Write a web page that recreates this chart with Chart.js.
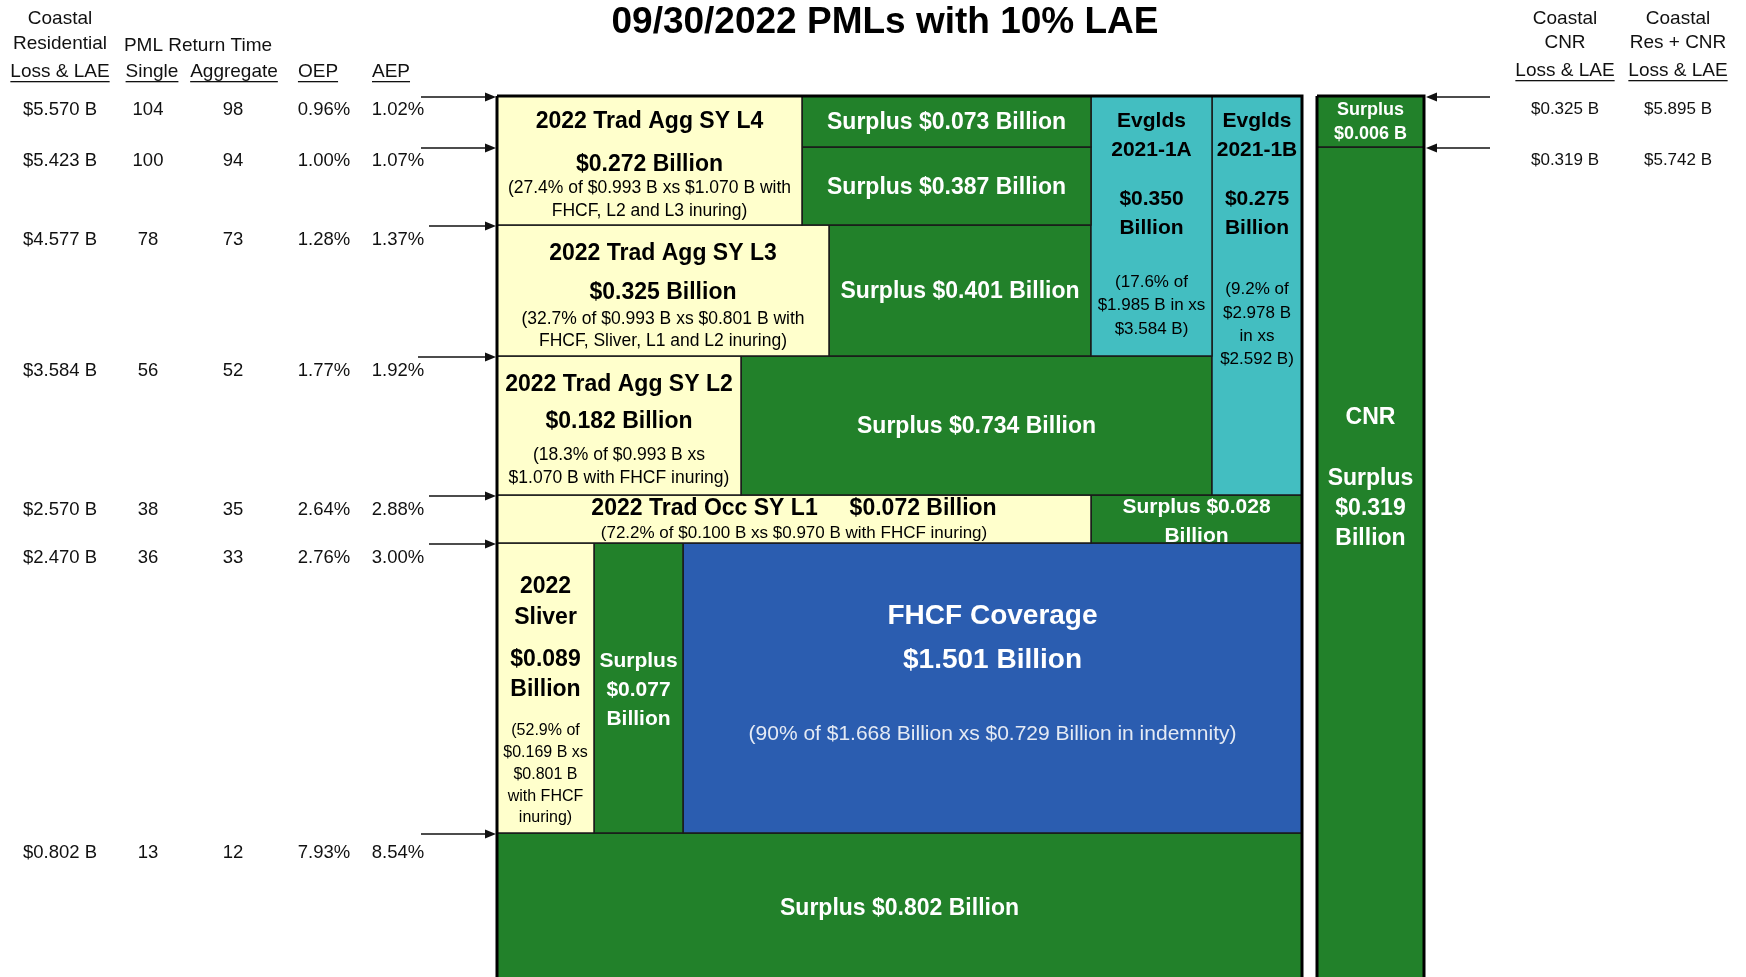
<!DOCTYPE html>
<html>
<head>
<meta charset="utf-8">
<title>09/30/2022 PMLs with 10% LAE</title>
<script src="https://cdn.jsdelivr.net/npm/chart.js@4.4.1/dist/chart.umd.min.js"></script>
<style>
  html, body { margin: 0; padding: 0; background: #fff; }
  canvas { display: block; }
</style>
</head>
<body>
<canvas id="tower" width="1746" height="977"></canvas>
<script>
// PML table (one row per attachment level, top of tower first)
const lossLevels   = [5.570, 5.423, 4.577, 3.584, 2.570, 2.470, 0.802];
const pmlSingle    = [104, 100, 78, 56, 38, 36, 13];
const pmlAggregate = [98, 94, 73, 52, 35, 33, 12];
const oepPct       = [0.96, 1.00, 1.28, 1.77, 2.64, 2.76, 7.93];
const aepPct       = [1.02, 1.07, 1.37, 1.92, 2.88, 3.00, 8.54];
// CNR side table
const cnrLoss      = [0.325, 0.319];
const resCnrLoss   = [5.895, 5.742];

// layout (chart units): row of each level in the tower, plus the base
const levelY = [96, 147, 225, 356, 495, 543, 833, 985];
const colX = {
  left: 497, sliver: 594, s077: 683, l2: 741, l4: 802, l3: 829,
  evA: 1091, evB: 1212, right: 1302, cnrL: 1317, cnrR: 1424
};
const rowTextY  = [109.5, 160.5, 239.5, 370.5, 509.5, 557.5, 852.5];
const arrowTail = [421, 421, 429, 418, 429, 429, 421];
const TEXT_SHIFT = 2; // glyph centre vs. canvas 'middle' baseline

const YELLOW = '#FFFFCC', GREEN = '#22812A', CYAN = '#43BEC1', BLUE = '#2B5DB0';
const FAMILY = '"Liberation Sans", Arial, Helvetica, sans-serif';

// tower layers: columns, levels, colour, label lines [text, font, row]
const layers = [
  { x: ['left', 'l4'], lv: [0, 2], fill: YELLOW, ink: '#000', lines: [
    ['2022 Trad Agg SY L4', 'b23', 120], ['$0.272 Billion', 'b23', 163],
    ['(27.4% of $0.993 B xs $1.070 B with', 'r17.5', 186], ['FHCF, L2 and L3 inuring)', 'r17.5', 209]] },
  { x: ['l4', 'evA'], lv: [0, 1], fill: GREEN, ink: '#fff', lines: [['Surplus $0.073 Billion', 'b23', 121]] },
  { x: ['l4', 'evA'], lv: [1, 2], fill: GREEN, ink: '#fff', lines: [['Surplus $0.387 Billion', 'b23', 186]] },
  { x: ['evA', 'evB'], lv: [0, 3], fill: CYAN, ink: '#000', lines: [
    ['Evglds', 'b21', 119], ['2021-1A', 'b21', 148], ['$0.350', 'b21', 197], ['Billion', 'b21', 226],
    ['(17.6% of', 'r17', 280], ['$1.985 B in xs', 'r17', 303], ['$3.584 B)', 'r17', 327]] },
  { x: ['evB', 'right'], lv: [0, 4], fill: CYAN, ink: '#000', lines: [
    ['Evglds', 'b21', 119], ['2021-1B', 'b21', 148], ['$0.275', 'b21', 197], ['Billion', 'b21', 226],
    ['(9.2% of', 'r17', 287], ['$2.978 B', 'r17', 311], ['in xs', 'r17', 334], ['$2.592 B)', 'r17', 357]] },
  { x: ['left', 'l3'], lv: [2, 3], fill: YELLOW, ink: '#000', lines: [
    ['2022 Trad Agg SY L3', 'b23', 252], ['$0.325 Billion', 'b23', 291],
    ['(32.7% of $0.993 B xs $0.801 B with', 'r17.5', 317], ['FHCF, Sliver, L1 and L2 inuring)', 'r17.5', 339]] },
  { x: ['l3', 'evA'], lv: [2, 3], fill: GREEN, ink: '#fff', lines: [['Surplus $0.401 Billion', 'b23', 290]] },
  { x: ['left', 'l2'], lv: [3, 4], fill: YELLOW, ink: '#000', lines: [
    ['2022 Trad Agg SY L2', 'b23', 383], ['$0.182 Billion', 'b23', 420],
    ['(18.3% of $0.993 B xs', 'r17.5', 453], ['$1.070 B with FHCF inuring)', 'r17.5', 476]] },
  { x: ['l2', 'evB'], lv: [3, 4], fill: GREEN, ink: '#fff', lines: [['Surplus $0.734 Billion', 'b23', 425]] },
  { x: ['left', 'evA'], lv: [4, 5], fill: YELLOW, ink: '#000', lines: [
    ['2022 Trad Occ SY L1     $0.072 Billion', 'b23', 507],
    ['(72.2% of $0.100 B xs $0.970 B with FHCF inuring)', 'r17', 531]] },
  { x: ['evA', 'right'], lv: [4, 5], fill: GREEN, ink: '#fff', lines: [['Surplus $0.028', 'b21', 505], ['Billion', 'b21', 534]] },
  { x: ['left', 'sliver'], lv: [5, 6], fill: YELLOW, ink: '#000', lines: [
    ['2022', 'b23', 585], ['Sliver', 'b23', 616], ['$0.089', 'b23', 658], ['Billion', 'b23', 688],
    ['(52.9% of', 'r16', 729], ['$0.169 B xs', 'r16', 751], ['$0.801 B', 'r16', 773],
    ['with FHCF', 'r16', 795], ['inuring)', 'r16', 816]] },
  { x: ['sliver', 's077'], lv: [5, 6], fill: GREEN, ink: '#fff', lines: [
    ['Surplus', 'b21', 659], ['$0.077', 'b21', 688], ['Billion', 'b21', 717]] },
  { x: ['s077', 'right'], lv: [5, 6], fill: BLUE, ink: '#fff', lines: [
    ['FHCF Coverage', 'b28', 614], ['$1.501 Billion', 'b28', 658],
    ['(90% of $1.668 Billion xs $0.729 Billion in indemnity)', 'r21', 732, '#E4EAF4']] },
  { x: ['left', 'right'], lv: [6, 7], fill: GREEN, ink: '#fff', lines: [['Surplus $0.802 Billion', 'b23', 907]] },
  { x: ['cnrL', 'cnrR'], lv: [0, 1], fill: GREEN, ink: '#fff', lines: [['Surplus', 'b18', 108], ['$0.006 B', 'b18', 132]] },
  { x: ['cnrL', 'cnrR'], lv: [1, 7], fill: GREEN, ink: '#fff', lines: [
    ['CNR', 'b23', 416], ['Surplus', 'b23', 477], ['$0.319', 'b23', 507], ['Billion', 'b23', 537]] }
];

function font(key) {
  const weight = key[0] === 'b' ? 'bold ' : '';
  return weight + key.slice(1) + 'px ' + FAMILY;
}

function rectPoints(x0, x1, y0, y1) {
  return [{x: x0, y: y0}, {x: x1, y: y0}, {x: x1, y: y1}, {x: x0, y: y1}, {x: x0, y: y0}];
}

const datasets = layers.map(l => ({
  data: rectPoints(colX[l.x[0]], colX[l.x[1]], levelY[l.lv[0]], levelY[l.lv[1]]),
  showLine: true,
  fill: 'shape',
  backgroundColor: l.fill,
  borderColor: '#1a1a1a',
  borderWidth: 1.5,
  borderJoinStyle: 'miter',
  pointRadius: 0,
  pointHoverRadius: 0,
  tension: 0,
  order: 1
}));

// thick outlines of the two towers
[['left', 'right'], ['cnrL', 'cnrR']].forEach(c => {
  datasets.push({
    data: rectPoints(colX[c[0]], colX[c[1]], levelY[0], levelY[7]),
    showLine: true,
    fill: false,
    borderColor: '#000',
    borderWidth: 3,
    borderJoinStyle: 'miter',
    pointRadius: 0,
    pointHoverRadius: 0,
    order: 0
  });
});

// labels inside each layer
const layerLabels = {
  id: 'layerLabels',
  afterDatasetsDraw(chart) {
    const {ctx, scales: {x, y}} = chart;
    ctx.save();
    ctx.textAlign = 'center';
    ctx.textBaseline = 'middle';
    layers.forEach(l => {
      const cx = (x.getPixelForValue(colX[l.x[0]]) + x.getPixelForValue(colX[l.x[1]])) / 2;
      l.lines.forEach(line => {
        ctx.font = font(line[1]);
        ctx.fillStyle = line[3] || l.ink;
        ctx.fillText(line[0], cx, y.getPixelForValue(line[2] + TEXT_SHIFT));
      });
    });
    ctx.restore();
  }
};

function label(ctx, str, px, py, size, underline) {
  ctx.font = size + 'px ' + FAMILY;
  ctx.fillText(str, px, py);
  if (underline) {
    const w = ctx.measureText(str).width;
    ctx.fillRect(px - w / 2, py + size * 0.5, w, 1.3);
  }
}

function arrow(ctx, x0, y0, x1, y1) {
  const dir = Math.sign(x1 - x0);
  ctx.beginPath();
  ctx.moveTo(x0, y0);
  ctx.lineTo(x1 - dir * 9, y1);
  ctx.stroke();
  ctx.beginPath();
  ctx.moveTo(x1, y1);
  ctx.lineTo(x1 - dir * 11, y1 - 4.5);
  ctx.lineTo(x1 - dir * 11, y1 + 4.5);
  ctx.closePath();
  ctx.fill();
}

// PML table on the left, CNR table on the right, level arrows
const sideTables = {
  id: 'sideTables',
  afterDraw(chart) {
    const {ctx, scales: {x, y}} = chart;
    const X = v => x.getPixelForValue(v);
    const Y = v => y.getPixelForValue(v);
    ctx.save();
    ctx.fillStyle = '#111';
    ctx.strokeStyle = '#111';
    ctx.lineWidth = 1.6;
    ctx.textAlign = 'center';
    ctx.textBaseline = 'middle';

    // left headers
    label(ctx, 'Coastal', X(60), Y(18.5), 19);
    label(ctx, 'Residential', X(60), Y(43.5), 19);
    label(ctx, 'Loss & LAE', X(60), Y(71.5), 19, true);
    label(ctx, 'PML Return Time', X(198), Y(45.5), 19);
    label(ctx, 'Single', X(152), Y(71.5), 19, true);
    label(ctx, 'Aggregate', X(234), Y(71.5), 19, true);
    label(ctx, 'OEP', X(318), Y(71.5), 19, true);
    label(ctx, 'AEP', X(391), Y(71.5), 19, true);

    lossLevels.forEach((v, i) => {
      const ry = Y(rowTextY[i]);
      label(ctx, '$' + v.toFixed(3) + ' B', X(60), ry, 18.5);
      label(ctx, String(pmlSingle[i]), X(148), ry, 18.5);
      label(ctx, String(pmlAggregate[i]), X(233), ry, 18.5);
      label(ctx, oepPct[i].toFixed(2) + '%', X(324), ry, 18.5);
      label(ctx, aepPct[i].toFixed(2) + '%', X(398), ry, 18.5);
      arrow(ctx, X(arrowTail[i]), Y(levelY[i] + 1), X(colX.left - 1), Y(levelY[i] + 1));
    });

    // right headers
    label(ctx, 'Coastal', X(1565), Y(18.5), 19);
    label(ctx, 'CNR', X(1565), Y(42.5), 19);
    label(ctx, 'Loss & LAE', X(1565), Y(70.5), 19, true);
    label(ctx, 'Coastal', X(1678), Y(18.5), 19);
    label(ctx, 'Res + CNR', X(1678), Y(42.5), 19);
    label(ctx, 'Loss & LAE', X(1678), Y(70.5), 19, true);

    cnrLoss.forEach((v, i) => {
      const ry = Y(rowTextY[i]);
      label(ctx, '$' + v.toFixed(3) + ' B', X(1565), ry, 17);
      label(ctx, '$' + resCnrLoss[i].toFixed(3) + ' B', X(1678), ry, 17);
      arrow(ctx, X(1490), Y(levelY[i] + 1), X(colX.cnrR + 2), Y(levelY[i] + 1));
    });
    ctx.restore();
  }
};

new Chart(document.getElementById('tower').getContext('2d'), {
  type: 'scatter',
  data: { datasets: datasets },
  options: {
    responsive: false,
    animation: false,
    devicePixelRatio: 1,
    events: [],
    layout: { padding: { left: 24, right: 0, top: 0, bottom: 0 } },
    scales: {
      x: { type: 'linear', display: false, min: 24, max: 1746 },
      y: { type: 'linear', display: false, min: 90, max: 977, reverse: true }
    },
    plugins: {
      legend: { display: false },
      tooltip: { enabled: false },
      title: {
        display: true,
        text: '09/30/2022 PMLs with 10% LAE',
        color: '#000',
        font: { family: FAMILY, size: 37, weight: 'bold', lineHeight: 1.2 },
        padding: { top: 1, bottom: 44.6 }
      }
    }
  },
  plugins: [layerLabels, sideTables]
});
</script>
</body>
</html>
